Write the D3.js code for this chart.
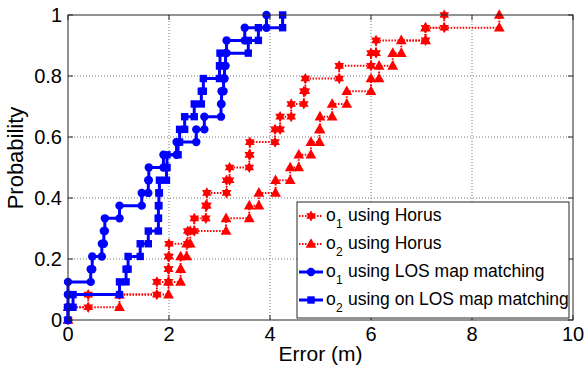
<!DOCTYPE html>
<html lang="en">
<head>
<meta charset="UTF-8" />
<title>Localization error CDF</title>
<style>
  body { margin: 0; background: #fff; }
  svg text { font-family: Arial, "Liberation Sans", Helvetica, sans-serif; fill: #000; }
</style>
</head>
<body>
<div id="chart"></div>
<script src="https://d3js.org/d3.v7.min.js"></script>
<script>
const width = 584;
const height = 370;
const margin = { top: 15, right: 11, bottom: 50, left: 68 };
const innerWidth = width - margin.left - margin.right;
const innerHeight = height - margin.top - margin.bottom;

const xTicks = [0, 2, 4, 6, 8, 10];
const yTicks = [0, 0.2, 0.4, 0.6, 0.8, 1];

// sorted localization errors (m), 24 samples per run
const horusO1 = [0, 0.4, 1.76, 1.99, 1.99, 2.0, 2.37, 2.5, 2.73, 2.75, 3.14, 3.2,
                 3.59, 3.6, 4.1, 4.2, 4.42, 4.67, 4.7, 5.37, 6.0, 6.1, 7.08, 7.45];
const horusO2 = [0, 1.02, 1.99, 2.23, 2.23, 2.35, 2.42, 3.13, 3.59, 3.78, 4.11, 4.4,
                 4.57, 4.81, 4.98, 4.99, 5.23, 5.52, 6.0, 6.16, 6.43, 6.6, 7.08, 8.54];
const losO1 = [0, 0, 0, 0.45, 0.48, 0.67, 0.71, 0.73, 1.02, 1.46, 1.59, 1.6,
               1.89, 2.15, 2.54, 2.7, 3.03, 3.04, 3.08, 3.1, 3.12, 3.14, 3.5, 3.93];
const losO2 = [0, 0.1, 1.02, 1.15, 1.19, 1.43, 1.59, 1.79, 1.79, 1.8, 1.81, 1.95,
               1.96, 2.18, 2.21, 2.31, 2.5, 2.64, 2.68, 3.0, 3.01, 3.57, 3.77, 4.25];

const legendSubs = ['1', '2', '1', '2'];
const legendTexts = ['using Horus', 'using Horus', 'using LOS map matching', 'using on LOS map matching'];

const series = [
  { values: horusO1, color: '#ff0000', dash: '1.5 1.5', width: 2, marker: 'hexagram' },
  { values: horusO2, color: '#ff0000', dash: '1.5 1.5', width: 2, marker: 'triangle' },
  { values: losO1, color: '#0000ff', dash: null, width: 3, marker: 'circle' },
  { values: losO2, color: '#0000ff', dash: null, width: 3, marker: 'square' }
];

const svg = d3.select('#chart')
  .append('svg')
  .attr('width', width)
  .attr('height', height);

const g = svg.append('g')
  .attr('transform', `translate(${margin.left},${margin.top})`);

const x = d3.scaleLinear().domain([0, 10]).range([0, innerWidth]);
const y = d3.scaleLinear().domain([0, 1]).range([innerHeight, 0]);

// dotted grid
const grid = g.append('g')
  .attr('stroke', '#777')
  .attr('stroke-width', 1)
  .attr('stroke-dasharray', '1 2');
grid.selectAll('line.gx')
  .data(xTicks.slice(1, -1))
  .enter().append('line')
    .attr('x1', d => x(d)).attr('x2', d => x(d))
    .attr('y1', 0).attr('y2', innerHeight);
grid.selectAll('line.gy')
  .data(yTicks.slice(1, -1))
  .enter().append('line')
    .attr('y1', d => y(d)).attr('y2', d => y(d))
    .attr('x1', 0).attr('x2', innerWidth);

// empirical CDF as stairs, markers on every corner
function cdfSteps(values) {
  const n = values.length;
  const pts = [];
  values.forEach((v, i) => {
    pts.push([v, i / n]);
    pts.push([v, (i + 1) / n]);
  });
  return pts;
}

function hexagramPath(r) {
  const inner = r / Math.sqrt(3);
  const pts = d3.range(12).map(k => {
    const a = -Math.PI / 2 + k * Math.PI / 6;
    const rr = k % 2 === 0 ? r : inner;
    return [rr * Math.cos(a), rr * Math.sin(a)];
  });
  return 'M' + pts.map(p => p.join(',')).join('L') + 'Z';
}

function drawMarker(sel, type, color) {
  if (type === 'circle') {
    sel.append('circle').attr('r', 4.2).attr('fill', color);
  } else if (type === 'square') {
    sel.append('rect').attr('x', -3.7).attr('y', -3.7)
      .attr('width', 7.4).attr('height', 7.4).attr('fill', color);
  } else if (type === 'triangle') {
    sel.append('path').attr('d', 'M0,-5.8L5.4,3.8L-5.4,3.8Z').attr('fill', color);
  } else {
    sel.append('path').attr('d', hexagramPath(5.6)).attr('fill', color);
  }
}

const line = d3.line().x(d => x(d[0])).y(d => y(d[1]));

const plot = g.append('g');
series.forEach(s => {
  const pts = cdfSteps(s.values);
  const sg = plot.append('g');
  sg.append('path')
    .datum(pts)
    .attr('d', line)
    .attr('fill', 'none')
    .attr('stroke', s.color)
    .attr('stroke-width', s.width)
    .attr('stroke-dasharray', s.dash);
  sg.selectAll('g.m')
    .data(pts)
    .enter().append('g')
      .attr('transform', d => `translate(${x(d[0])},${y(d[1])})`)
      .each(function() { drawMarker(d3.select(this), s.marker, s.color); });
});

// axes box with inward ticks
const frame = g.append('g').attr('stroke', '#262626').attr('stroke-width', 1);
frame.append('rect')
  .attr('width', innerWidth).attr('height', innerHeight)
  .attr('fill', 'none');
const tickLen = 5;
xTicks.forEach(t => {
  frame.append('line').attr('x1', x(t)).attr('x2', x(t)).attr('y1', innerHeight).attr('y2', innerHeight - tickLen);
  frame.append('line').attr('x1', x(t)).attr('x2', x(t)).attr('y1', 0).attr('y2', tickLen);
});
yTicks.forEach(t => {
  frame.append('line').attr('y1', y(t)).attr('y2', y(t)).attr('x1', 0).attr('x2', tickLen);
  frame.append('line').attr('y1', y(t)).attr('y2', y(t)).attr('x1', innerWidth).attr('x2', innerWidth - tickLen);
});

// tick labels, placed in page coordinates
svg.append('g').selectAll('text')
  .data(xTicks)
  .enter().append('text')
    .attr('x', d => margin.left + x(d))
    .attr('y', margin.top + innerHeight + 21)
    .attr('text-anchor', 'middle')
    .attr('font-size', 20)
    .text(d => d);
svg.append('g').selectAll('text')
  .data(yTicks)
  .enter().append('text')
    .attr('x', margin.left - 6)
    .attr('y', d => margin.top + y(d) + 7)
    .attr('text-anchor', 'end')
    .attr('font-size', 20)
    .text(d => d);

svg.append('text')
  .attr('x', margin.left + innerWidth / 2)
  .attr('y', 361)
  .attr('text-anchor', 'middle')
  .attr('font-size', 21)
  .text('Error (m)');
svg.append('text')
  .attr('transform', 'translate(23,158) rotate(-90)')
  .attr('text-anchor', 'middle')
  .attr('font-size', 22)
  .text('Probability');

// legend
const legend = svg.append('g').attr('transform', 'translate(297,202)');
legend.append('rect')
  .attr('width', 272).attr('height', 116)
  .attr('fill', '#fff').attr('stroke', '#262626').attr('stroke-width', 1);
series.forEach((s, i) => {
  const cy = 14 + i * 28;
  const row = legend.append('g').attr('transform', `translate(0,${cy})`);
  row.append('line')
    .attr('x1', 2).attr('x2', 26)
    .attr('stroke', s.color)
    .attr('stroke-width', s.width)
    .attr('stroke-dasharray', s.dash);
  drawMarker(row.append('g').attr('transform', 'translate(14,0)'), s.marker, s.color);
  row.append('text').attr('x', 29).attr('y', 5).attr('font-size', 17.5).text('o');
  row.append('text').attr('x', 39).attr('y', 12).attr('font-size', 12).text(legendSubs[i]);
  row.append('text').attr('x', 51).attr('y', 5).attr('font-size', 17.5).text(legendTexts[i]);
});
</script>
</body>
</html>
